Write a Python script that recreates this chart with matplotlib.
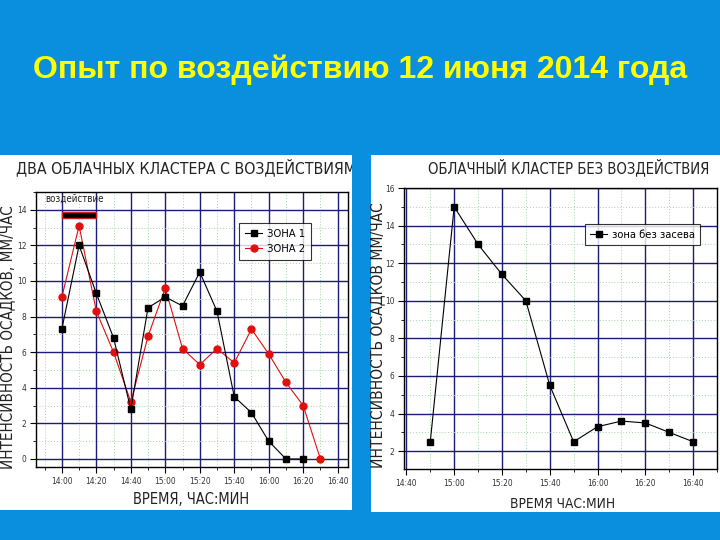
import numpy as np
import matplotlib
matplotlib.use("Agg")
import matplotlib.pyplot as plt
from matplotlib.patches import Rectangle
from matplotlib.ticker import MultipleLocator, FuncFormatter

# ----- data -----
title = "Опыт по воздействию 12 июня 2014 года"

left_title = "ДВА ОБЛАЧНЫХ КЛАСТЕРА С ВОЗДЕЙСТВИЯМИ"
zone1_times = ["14:00", "14:10", "14:20", "14:30", "14:40", "14:50", "15:00", "15:10",
               "15:20", "15:30", "15:40", "15:50", "16:00", "16:10", "16:20"]
zone1_vals = [7.3, 12.0, 9.3, 6.8, 2.8, 8.5, 9.1, 8.6, 10.5, 8.3, 3.5, 2.6, 1.0, 0.0, 0.0]
zone2_times = ["14:00", "14:10", "14:20", "14:30", "14:40", "14:50", "15:00", "15:10",
               "15:20", "15:30", "15:40", "15:50", "16:00", "16:10", "16:20", "16:30"]
zone2_vals = [9.1, 13.1, 8.3, 6.0, 3.2, 6.9, 9.6, 6.2, 5.3, 6.2, 5.4, 7.3, 5.9, 4.3, 3.0, 0.0]
seeding_span = ["14:00", "14:20"]

right_title = "ОБЛАЧНЫЙ КЛАСТЕР БЕЗ ВОЗДЕЙСТВИЯ"
ctrl_times = ["14:50", "15:00", "15:10", "15:20", "15:30", "15:40", "15:50", "16:00",
              "16:10", "16:20", "16:30", "16:40"]
ctrl_vals = [2.5, 15.0, 13.0, 11.4, 10.0, 5.5, 2.5, 3.3, 3.6, 3.5, 3.0, 2.5]


def to_min(t):
    h, m = t.split(":")
    return (int(h) - 14) * 60 + int(m)


def fmt_time(v, pos):
    v = int(round(v))
    return "%d:%02d" % (14 + v // 60, v % 60)


NARROW = dict(family="DejaVu Sans", stretch="condensed")
BLUE = "#0a8fdf"
NAVY = "#1c1c7a"
TXT = "#222222"


def style_axes(ax, xlim, ylim, yticks):
    ax.set_xlim(*xlim)
    ax.set_ylim(*ylim)
    ax.xaxis.set_major_locator(MultipleLocator(20))
    ax.xaxis.set_minor_locator(MultipleLocator(10))
    ax.xaxis.set_major_formatter(FuncFormatter(fmt_time))
    ax.set_yticks(yticks)
    ax.yaxis.set_minor_locator(MultipleLocator(1))
    ax.grid(True, which="major", color=NAVY, lw=1.0)
    ax.grid(True, which="minor", color="#9fd6a6", lw=0.7, ls=(0, (1, 2)))
    ax.set_axisbelow(True)
    ax.tick_params(which="major", direction="out", length=4, width=0.8,
                   labelsize=6, labelcolor="#333333", pad=3)
    ax.tick_params(which="minor", direction="out", length=2, width=0.6)
    for lab in ax.get_xticklabels() + ax.get_yticklabels():
        lab.set_fontstretch("condensed")
    for s in ax.spines.values():
        s.set_color("black")
        s.set_linewidth(1.0)


fig = plt.figure(figsize=(7.2, 5.4), dpi=100)
fig.patch.set_facecolor(BLUE)

# white panels
left_panel = Rectangle((0, 1 - 510 / 540), 352 / 720, 355 / 540,
                       transform=fig.transFigure, fc="white", ec="none", zorder=-5)
right_panel = Rectangle((371 / 720, 1 - 512 / 540), 349 / 720, 357 / 540,
                        transform=fig.transFigure, fc="white", ec="none", zorder=-5)
fig.patches.extend([left_panel, right_panel])

fig.text(0.5, 1 - 70 / 540, title, ha="center", va="center", color="#ffff00",
         fontsize=23, fontweight="bold", family=["Liberation Sans", "DejaVu Sans"])

# ----- left chart -----
ax1 = fig.add_axes([36 / 720, 1 - 467 / 540, 312 / 720, 275 / 540])
style_axes(ax1, (-15, 166), (-0.45, 15), np.arange(0, 15, 2))
x1 = [to_min(t) for t in zone1_times]
x2 = [to_min(t) for t in zone2_times]
ax1.plot(x1, zone1_vals, color="black", lw=0.8, marker="s", ms=5, label="ЗОНА 1", zorder=4)
ax1.plot(x2, zone2_vals, color="#e01010", lw=0.8, marker="o", ms=5, label="ЗОНА 2", zorder=3)
s0, s1 = [to_min(t) for t in seeding_span]
ax1.add_patch(Rectangle((s0, 13.55), s1 - s0, 0.35, fc="black", ec="#cc2020", lw=1, zorder=5))
ax1.text(0.03, 0.995, "воздействие", transform=ax1.transAxes, ha="left", va="top",
         fontsize=7, color=TXT, **NARROW)
leg = ax1.legend(loc="upper left", bbox_to_anchor=(0.651, 0.887), borderaxespad=0,
                 prop=dict(size=8, **NARROW), frameon=True, fancybox=False,
                 edgecolor="black", handlelength=1.6, handletextpad=0.4,
                 borderpad=0.5, labelspacing=0.5)
leg.get_frame().set_linewidth(0.8)
t1 = fig.text(16 / 720, 1 - 167 / 540, left_title, ha="left", va="center",
              fontsize=11.3, color=TXT, **NARROW)
t1.set_clip_path(left_panel)
fig.text(8 / 720, 1 - 337 / 540, "ИНТЕНСИВНОСТЬ ОСАДКОВ, ММ/ЧАС", rotation=90,
         ha="center", va="center", fontsize=10.9, color=TXT, **NARROW)
fig.text(191 / 720, 1 - 500 / 540, "ВРЕМЯ, ЧАС:МИН", ha="center", va="center",
         fontsize=10.5, color=TXT, **NARROW)

# ----- right chart -----
ax2 = fig.add_axes([404 / 720, 1 - 469 / 540, 313 / 720, 281 / 540])
style_axes(ax2, (39, 170), (1.05, 16), np.arange(2, 17, 2))
x3 = [to_min(t) for t in ctrl_times]
ax2.plot(x3, ctrl_vals, color="black", lw=0.8, marker="s", ms=5, label="зона без засева")
leg2 = ax2.legend(loc="upper left", bbox_to_anchor=(0.578, 0.872), borderaxespad=0,
                  prop=dict(size=8, **NARROW), frameon=True, fancybox=False,
                  edgecolor="black", handlelength=1.5, handletextpad=0.4, borderpad=0.5)
leg2.get_frame().set_linewidth(0.8)
fig.text(569 / 720, 1 - 167 / 540, right_title, ha="center", va="center",
         fontsize=10.6, color=TXT, **NARROW)
fig.text(378 / 720, 1 - 335 / 540, "ИНТЕНСИВНОСТЬ ОСАДКОВ ММ/ЧАС", rotation=90,
         ha="center", va="center", fontsize=11.2, color=TXT, **NARROW)
fig.text(563 / 720, 1 - 504 / 540, "ВРЕМЯ ЧАС:МИН", ha="center", va="center",
         fontsize=9.8, color=TXT, **NARROW)

fig.savefig("out.png", dpi=100, facecolor=fig.get_facecolor())
